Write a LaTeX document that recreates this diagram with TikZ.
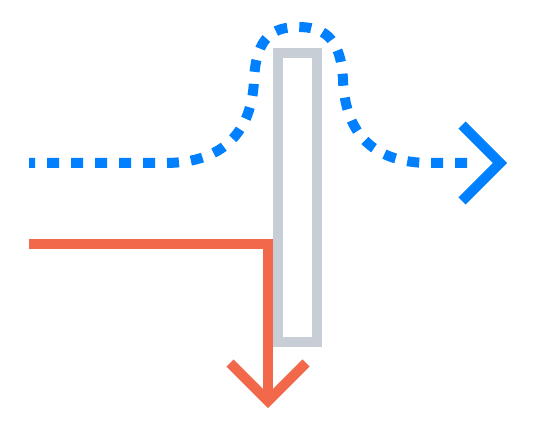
\documentclass[tikz,border=0pt]{standalone}
\usetikzlibrary{positioning}
\definecolor{wavecol}{HTML}{0080FF}
\definecolor{raycol}{HTML}{F2684A}
\definecolor{wallcol}{HTML}{C8CED5}
\begin{document}
\begin{tikzpicture}[x=1pt,y=-1pt,line width=10pt,
	wave/.style={wavecol,dash pattern=on 12pt off 12pt,dash phase=6pt},
	ray/.style={raycol,line join=miter},
	tipline/.style={line join=miter}]
	\useasboundingbox (0,0) rectangle (536,433);
	
	% barrier
	\draw[wallcol] (278,53) rectangle (317,342);
	
	% reflected ray
	\coordinate (raystart) at (29,244);
	\coordinate (raycorner) at (268,244);
	\coordinate (raytip) at (268,401);
	\draw[ray] (raystart) -- (raycorner) -- (raytip);
	\draw[ray] (230,363) -- (raytip) -- (306,363);
	
	% tunnelling wave
	\coordinate (wavestart) at (29,163);
	\coordinate (waveend) at (477,163);
	\coordinate (wavetip) at (500,163);
	\draw[wave] (wavestart) -- (165,163) .. controls (225,163) and (252,130) .. (254,80)
		.. controls (256,35) and (275,27) .. (298,27)
		.. controls (321,27) and (341,35) .. (343,80)
		.. controls (345,130) and (370,163) .. (430,163) -- (waveend);
	\draw[wavecol,tipline] (462,125) -- (wavetip) -- (462,201);
\end{tikzpicture}
\end{document}
